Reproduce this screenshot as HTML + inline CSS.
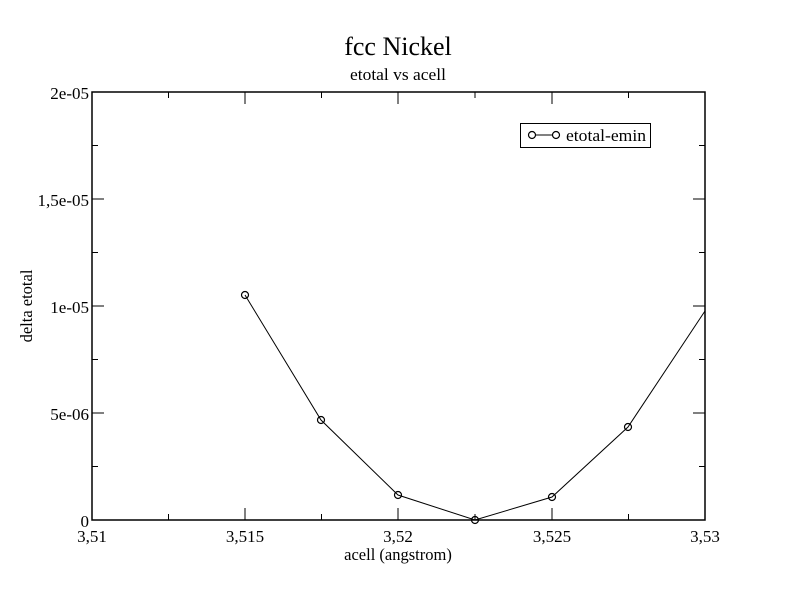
<!DOCTYPE html>
<html><head><style>body{margin:0;background:#fff}svg{display:block}</style></head><body>
<svg width="792" height="612" viewBox="0 0 792 612" xmlns="http://www.w3.org/2000/svg" font-family="Liberation Serif, serif">
<rect width="792" height="612" fill="#fff"/>
<text x="398" y="55" font-size="26" text-anchor="middle">fcc Nickel</text>
<text x="398" y="80" font-size="17" text-anchor="middle" textLength="96" lengthAdjust="spacingAndGlyphs">etotal vs acell</text>
<g stroke="#000" stroke-width="1.5" fill="none">
<rect x="92" y="92" width="613" height="428"/>
</g>
<g stroke="#000" stroke-width="1">
<path d="M245 520v-12M398 520v-12M552 520v-12M168.5 520v-6M321.5 520v-6M475 520v-6M628.5 520v-6
M245 92v12M398 92v12M552 92v12M168.5 92v6M321.5 92v6M475 92v6M628.5 92v6
M92 413h12M92 306h12M92 199h12M92 466.5h6M92 359.5h6M92 252.5h6M92 145.5h6
M705 413h-12M705 306h-12M705 199h-12M705 466.5h-6M705 359.5h-6M705 252.5h-6M705 145.5h-6"/>
</g>
<g font-size="17" text-anchor="end">
<text x="89" y="527">0</text>
<text x="89" y="420">5e-06</text>
<text x="89" y="313">1e-05</text>
<text x="89" y="206">1,5e-05</text>
<text x="89" y="99">2e-05</text>
</g>
<g font-size="17" text-anchor="middle">
<text x="92" y="542">3,51</text>
<text x="245" y="542">3,515</text>
<text x="398" y="542">3,52</text>
<text x="552" y="542">3,525</text>
<text x="705" y="542">3,53</text>
</g>
<text x="398" y="560" font-size="16.5" text-anchor="middle">acell (angstrom)</text>
<text transform="translate(32,306) rotate(-90)" font-size="16.5" text-anchor="middle">delta etotal</text>
<polyline points="245,295 321,420 398,495 475,520 552,497 628,427 705,311" fill="none" stroke="#000" stroke-width="1"/>
<g fill="none" stroke="#000" stroke-width="1.2">
<circle cx="245" cy="295" r="3.5"/><circle cx="321" cy="420" r="3.5"/><circle cx="398" cy="495" r="3.5"/>
<circle cx="475" cy="520" r="3.5"/><circle cx="552" cy="497" r="3.5"/><circle cx="628" cy="427" r="3.5"/>
</g>
<rect x="520.5" y="123.5" width="130" height="24" fill="none" stroke="#000" stroke-width="1"/>
<line x1="532" y1="135" x2="556" y2="135" stroke="#000"/>
<circle cx="532" cy="135" r="3.5" fill="#fff" stroke="#000" stroke-width="1.2"/>
<circle cx="556" cy="135" r="3.5" fill="#fff" stroke="#000" stroke-width="1.2"/>
<text x="566" y="141" font-size="17" textLength="80" lengthAdjust="spacingAndGlyphs">etotal-emin</text>
</svg>
</body></html>
